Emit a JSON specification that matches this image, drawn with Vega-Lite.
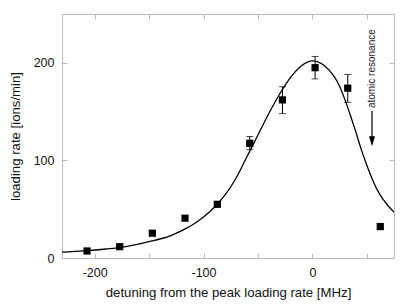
{
  "$schema": "https://vega.github.io/schema/vega-lite/v6.json",
  "autosize": "none",
  "width": 332,
  "height": 244,
  "padding": {"left": 62, "top": 14, "right": 21, "bottom": 47},
  "background": "white",
  "config": {
    "view": {"stroke": "#b8b8b8", "strokeWidth": 1},
    "font": "Liberation Sans",
    "axis": {
      "domainColor": "#b8b8b8",
      "tickColor": "#b8b8b8",
      "labelColor": "#111",
      "titleColor": "#111",
      "labelFont": "Liberation Sans",
      "titleFont": "Liberation Sans",
      "labelFontSize": 12.5,
      "titleFontSize": 13.2,
      "titleFontWeight": "normal",
      "grid": false
    }
  },
  "datasets": {
    "pts": [
      {"x": -207, "y": 7.2},
      {"x": -177, "y": 11.6},
      {"x": -147, "y": 25.4},
      {"x": -117, "y": 40.8},
      {"x": -87.3, "y": 55},
      {"x": -57.5, "y": 117.5, "lo": 111, "hi": 124.5},
      {"x": -27.5, "y": 162, "lo": 148, "hi": 175.5},
      {"x": 2.5, "y": 195, "lo": 183.5, "hi": 206.5},
      {"x": 32.5, "y": 174, "lo": 159.5, "hi": 188},
      {"x": 62.4, "y": 32.2}
    ],
    "curve": [
      {"cx": -230, "cy": 6},
      {"cx": -210, "cy": 7.3},
      {"cx": -190, "cy": 9.2},
      {"cx": -170, "cy": 12},
      {"cx": -150, "cy": 16.8},
      {"cx": -130, "cy": 23},
      {"cx": -120, "cy": 28},
      {"cx": -110, "cy": 34},
      {"cx": -100, "cy": 42},
      {"cx": -90, "cy": 52},
      {"cx": -80, "cy": 65},
      {"cx": -70, "cy": 82},
      {"cx": -60, "cy": 104},
      {"cx": -50, "cy": 126},
      {"cx": -40, "cy": 148},
      {"cx": -30, "cy": 168},
      {"cx": -20, "cy": 185},
      {"cx": -10, "cy": 197},
      {"cx": 0, "cy": 202},
      {"cx": 10, "cy": 198},
      {"cx": 20, "cy": 186},
      {"cx": 25, "cy": 176},
      {"cx": 30, "cy": 162},
      {"cx": 35, "cy": 146},
      {"cx": 40, "cy": 129},
      {"cx": 45, "cy": 111},
      {"cx": 50, "cy": 95},
      {"cx": 55, "cy": 81},
      {"cx": 60, "cy": 69},
      {"cx": 65, "cy": 60},
      {"cx": 70, "cy": 53},
      {"cx": 75, "cy": 47}
    ],
    "note": [
      {"ax": 54.8, "ay": 194, "ay1": 150.5, "ay2": 124, "hy": 119.5, "t": "atomic resonance"}
    ]
  },
  "layer": [
    {
      "data": {"name": "curve"},
      "mark": {"type": "line", "color": "black", "strokeWidth": 1.3, "interpolate": "monotone", "clip": true},
      "encoding": {
        "x": {
          "field": "cx", "type": "quantitative",
          "scale": {"domain": [-230, 75], "nice": false, "zero": false},
          "axis": {
            "orient": "bottom",
            "values": [-200, -150, -100, -50, 0, 50],
            "labelExpr": "datum.value % 100 === 0 ? '' + datum.value : ''",
            "tickSize": -5,
            "labelPadding": 13,
            "title": "detuning from the peak loading rate [MHz]",
            "titlePadding": 8
          }
        },
        "y": {
          "field": "cy", "type": "quantitative",
          "scale": {"domain": [0, 250], "nice": false},
          "axis": {
            "orient": "left",
            "values": [0, 100, 200],
            "tickSize": -5,
            "labelPadding": 13,
            "title": "loading rate [ions/min]",
            "titlePadding": 11
          }
        }
      }
    },
    {
      "data": {"name": "pts"},
      "mark": {"type": "rule", "color": "black", "strokeWidth": 1},
      "encoding": {
        "x": {"field": "x", "type": "quantitative", "axis": {"orient": "top", "values": [-200, -150, -100, -50, 0, 50], "labels": false, "tickSize": -5, "title": null, "domain": false}},
        "y": {"field": "lo", "type": "quantitative", "axis": {"orient": "right", "values": [0, 100, 200], "labels": false, "tickSize": -5, "title": null, "domain": false}},
        "y2": {"field": "hi"}
      }
    },
    {
      "data": {"name": "pts"},
      "transform": [{"filter": "isValid(datum.lo)"}],
      "mark": {"type": "tick", "orient": "horizontal", "color": "black", "size": 7, "thickness": 1},
      "encoding": {
        "x": {"field": "x", "type": "quantitative", "axis": null},
        "y": {"field": "lo", "type": "quantitative", "axis": null}
      }
    },
    {
      "data": {"name": "pts"},
      "transform": [{"filter": "isValid(datum.hi)"}],
      "mark": {"type": "tick", "orient": "horizontal", "color": "black", "size": 7, "thickness": 1},
      "encoding": {
        "x": {"field": "x", "type": "quantitative", "axis": null},
        "y": {"field": "hi", "type": "quantitative", "axis": null}
      }
    },
    {
      "data": {"name": "pts"},
      "mark": {"type": "square", "color": "black", "filled": true, "opacity": 1, "size": 52},
      "encoding": {
        "x": {"field": "x", "type": "quantitative", "axis": null},
        "y": {"field": "y", "type": "quantitative", "axis": null}
      }
    },
    {
      "data": {"name": "note"},
      "mark": {"type": "text", "angle": 270, "align": "center", "baseline": "middle", "fontSize": 10, "font": "Liberation Sans", "color": "#222"},
      "encoding": {
        "x": {"field": "ax", "type": "quantitative", "axis": null},
        "y": {"field": "ay", "type": "quantitative", "axis": null},
        "text": {"field": "t"}
      }
    },
    {
      "data": {"name": "note"},
      "mark": {"type": "rule", "color": "black", "strokeWidth": 1.2},
      "encoding": {
        "x": {"field": "ax", "type": "quantitative", "axis": null},
        "y": {"field": "ay1", "type": "quantitative", "axis": null},
        "y2": {"field": "ay2"}
      }
    },
    {
      "data": {"name": "note"},
      "mark": {"type": "point", "shape": "M-0.6,-1L0.6,-1L0,1Z", "filled": true, "color": "black", "opacity": 1, "size": 100},
      "encoding": {
        "x": {"field": "ax", "type": "quantitative", "axis": null},
        "y": {"field": "hy", "type": "quantitative", "axis": null}
      }
    }
  ],
  "resolve": {"axis": {"x": "independent", "y": "independent"}}
}
